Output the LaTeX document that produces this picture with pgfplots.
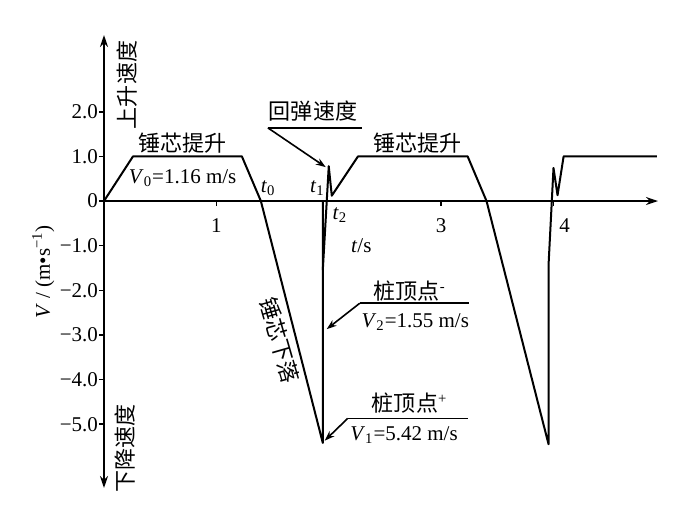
\documentclass[border=0pt]{standalone}
\usepackage{fontspec}
\setmainfont{Liberation Serif}
\newfontfamily\cjk[Scale=1.05]{Noto Sans CJK SC}
\usepackage{pgfplots}
\pgfplotsset{compat=1.18}
\usetikzlibrary{arrows.meta}
\begin{document}
\begin{tikzpicture}[font=\fontsize{10.5}{12}\selectfont]
\useasboundingbox (-52pt,-15pt) rectangle (296.5pt,244pt);
\begin{axis}[
  scale only axis, width=277pt, height=226.5pt,
  xmin=0, xmax=4.93, ymin=-6.43, ymax=3.72,
  axis lines=middle,
  axis line style={line width=0.75pt},
  x axis line style={-{Stealth[length=6pt,width=4pt]}},
  y axis line style={{Stealth[length=6pt,width=4pt]}-{Stealth[length=6pt,width=4pt]}},
  xtick={1,3,4}, xticklabels={1,3,\hspace*{11pt}4},
  ytick={-5,-4,-3,-2,-1,0,1,2},
  yticklabels={−5.0,−4.0,−3.0,−2.0,−1.0,0,1.0,2.0},
  hide obscured y ticks=false,
  tick align=outside, major tick length=2.5pt,
  tick style={line width=0.75pt, black},
  xticklabel style={yshift=-3pt},
  yticklabel style={xshift=3pt},
  clip=false,
]
\addplot[black, line width=1pt, line join=round] coordinates {
  (0,0) (0.258,1.0) (1.227,1.0) (1.396,0) (1.947,-5.42) (1.947,0)
};
\addplot[black, line width=1pt, line join=round] coordinates {
  (1.947,-1.55) (2.0,0.78) (2.027,0.12) (2.26,1.0) (3.236,1.0) (3.404,0)
  (3.956,-5.45) (3.956,-1.43) (4.0,0.74) (4.036,0.13) (4.09,1.0) (4.92,1.0)
};
% annotations
\node at (axis cs:0.70,1.30) {\cjk 锤芯提升};
\node at (axis cs:0.70,0.52) {\textit{V}\textsubscript{0}=1.16 m/s};
\node at (axis cs:1.46,0.29) {\textit{t}\textsubscript{0}};
\node at (axis cs:1.90,0.29) {\textit{t}\textsubscript{1}};
\node at (axis cs:2.10,-0.31) {\textit{t}\textsubscript{2}};
\node at (axis cs:2.29,-0.99) {\textit{t}/s};
\node at (axis cs:2.79,1.30) {\cjk 锤芯提升};
% rebound
\node at (axis cs:1.86,2.02) {\cjk 回弹速度};
\draw[line width=0.8pt] (axis cs:2.293,1.64) -- (axis cs:1.458,1.64);
\draw[line width=0.8pt,-{Stealth[length=5pt,width=3.5pt]}] (axis cs:1.458,1.64) -- (axis cs:1.973,0.76);
% pile top -
\node at (axis cs:2.72,-2.02) {{\cjk 桩顶点}\textsuperscript{-}};
\draw[line width=0.8pt] (axis cs:3.244,-2.29) -- (axis cs:2.276,-2.29);
\draw[line width=0.8pt,-{Stealth[length=5pt,width=3.5pt]}] (axis cs:2.276,-2.29) -- (axis cs:1.982,-2.87);
\node at (axis cs:2.77,-2.71) {\textit{V}\textsubscript{2}=1.55 m/s};
% pile top +
\node at (axis cs:2.72,-4.53) {{\cjk 桩顶点}\textsuperscript{+}};
\draw[line width=0.8pt] (axis cs:3.236,-4.87) -- (axis cs:2.169,-4.87);
\draw[line width=0.8pt,-{Stealth[length=5pt,width=3.5pt]}] (axis cs:2.169,-4.87) -- (axis cs:1.964,-5.37);
\node at (axis cs:2.67,-5.25) {\textit{V}\textsubscript{1}=5.42 m/s};
% falling
\node[rotate=-74] at (axis cs:1.564,-3.12) {\cjk 锤芯下落};
% up / down
\node[rotate=90] at (axis cs:0.204,2.60) {\cjk 上升速度};
\node[rotate=90] at (axis cs:0.19,-5.54) {\cjk 下降速度};
% y label
\node[rotate=90] at (axis cs:-0.54,-1.59) {\textit{V} / (m\textbullet s\textsuperscript{−1})};
\end{axis}
\end{tikzpicture}
\end{document}
